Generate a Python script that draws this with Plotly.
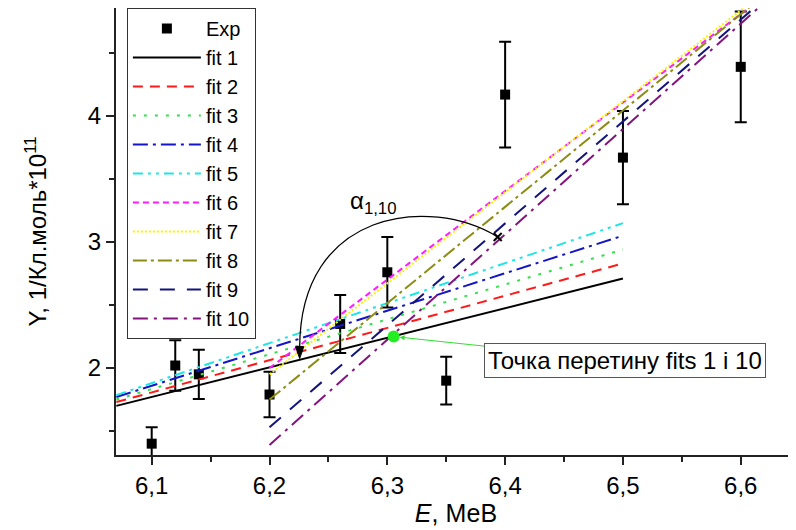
import plotly.graph_objects as go

# ---------------- data ----------------
exp_E = [6.10, 6.12, 6.14, 6.20, 6.26, 6.30, 6.35, 6.40, 6.50, 6.60]
exp_Y = [1.40, 2.02, 1.95, 1.79, 2.35, 2.76, 1.90, 4.17, 3.67, 4.39]
exp_err = [0.13, 0.20, 0.195, 0.18, 0.23, 0.28, 0.19, 0.42, 0.37, 0.44]

fit_names = ["fit 1", "fit 2", "fit 3", "fit 4", "fit 5",
             "fit 6", "fit 7", "fit 8", "fit 9", "fit 10"]
fit_x0 = [6.07, 6.07, 6.07, 6.07, 6.07, 6.20, 6.20, 6.20, 6.20, 6.20]
fit_y0 = [1.70, 1.73, 1.75, 1.77, 1.785, 2.00, 1.95, 1.75, 1.53, 1.39]
fit_x1 = [6.50, 6.50, 6.50, 6.50, 6.50, 6.65, 6.65, 6.65, 6.65, 6.65]
fit_y1 = [2.71, 2.83, 2.94, 3.05, 3.15, 5.16, 5.20, 5.19, 5.17, 5.15]
fit_colors = ["#000000", "#FF1A1A", "#33E04D", "#1414C8", "#1EE6E6",
              "#FF1AFF", "#F5F500", "#8C8C14", "#14147D", "#82147D"]
fit_dash = ["solid", "10px,7px", "3px,8px", "15px,5px,3px,5px",
            "10px,5px,3px,5px,3px,5px", "6px,4px", "2px,2px",
            "14px,4px,3px,4px", "15px,12px", "15px,6px,3px,6px"]

cross_E, cross_Y = [6.3054], [2.25]          # intersection of fits 1 and 10
angle_mark_E, angle_mark_Y = [6.3937], [3.04]
# arc for alpha_{1,10}: start, control 1, control 2, end
arc_E = [6.3937, 6.336, 6.2256, 6.2256]
arc_Y = [3.04, 3.373, 3.254, 2.16]

x_ticks = [6.1, 6.2, 6.3, 6.4, 6.5, 6.6]
x_ticklabels = ["6,1", "6,2", "6,3", "6,4", "6,5", "6,6"]
x_minor = [6.15, 6.25, 6.35, 6.45, 6.55]
y_ticks = [2, 3, 4]
y_ticklabels = ["2", "3", "4"]
y_minor = [1.5, 2.5, 3.5, 4.5]

FONT = "Liberation Sans, Arial, sans-serif"

fig = go.Figure()

fig.add_trace(go.Scatter(
    x=exp_E, y=exp_Y, mode="markers", name="Exp",
    marker=dict(symbol="square", size=10, color="black"),
    error_y=dict(type="data", array=exp_err, color="black", thickness=2, width=6),
))

for i in range(len(fit_names)):
    fig.add_trace(go.Scatter(
        x=[fit_x0[i], fit_x1[i]], y=[fit_y0[i], fit_y1[i]], mode="lines",
        name=fit_names[i],
        line=dict(color=fit_colors[i], width=2, dash=fit_dash[i]),
    ))

fig.add_trace(go.Scatter(
    x=cross_E, y=cross_Y, mode="markers", showlegend=False,
    marker=dict(symbol="circle", size=12, color="#22EE22"),
))
fig.add_trace(go.Scatter(
    x=angle_mark_E, y=angle_mark_Y, mode="markers", showlegend=False,
    marker=dict(symbol="x-thin", size=8, line=dict(color="black", width=2)),
))

path = "M {},{} C {},{} {},{} {},{}".format(
    arc_E[0], arc_Y[0], arc_E[1], arc_Y[1], arc_E[2], arc_Y[2], arc_E[3], arc_Y[3])
fig.add_shape(type="path", path=path, xref="x", yref="y",
              line=dict(color="black", width=1.3))
# arrow head at the end of the arc (pointing down)
head = "M {},{} L {},{} L {},{} Z".format(
    arc_E[3] - 0.0035, arc_Y[3] + 0.01, arc_E[3] + 0.0035, arc_Y[3] + 0.01,
    arc_E[3], arc_Y[3] - 0.085)
fig.add_shape(type="path", path=head, xref="x", yref="y",
              fillcolor="black", line=dict(color="black", width=1))

fig.add_annotation(x=6.2885, y=3.317, xref="x", yref="y",
                   text="α<sub>1,10</sub>", showarrow=False,
                   font=dict(family=FONT, size=24, color="black"))

fig.add_annotation(x=cross_E[0], y=cross_Y[0], xref="x", yref="y",
                   ax=6.5015, ay=2.056, axref="x", ayref="y",
                   text="Точка перетину fits 1 і 10", showarrow=True,
                   arrowhead=2, arrowsize=1, arrowwidth=1, arrowcolor="#33DD33",
                   standoff=6, bgcolor="white", bordercolor="#555555",
                   borderwidth=1, borderpad=3,
                   font=dict(family=FONT, size=24, color="black"))

fig.update_layout(
    width=788, height=522,
    margin=dict(l=108, r=0, t=0, b=75),
    paper_bgcolor="white", plot_bgcolor="white",
    font=dict(family=FONT, size=21, color="black"),
    showlegend=True,
    legend=dict(x=0.016, y=1.0, xanchor="left", yanchor="top",
                bgcolor="white", bordercolor="#333333", borderwidth=1,
                font=dict(family=FONT, size=20), itemwidth=68,
                tracegroupgap=0),
)

fig.update_xaxes(
    range=[6.0697, 6.6469], tickmode="array", tickvals=x_ticks, ticktext=x_ticklabels,
    ticks="outside", ticklen=8, tickwidth=2, tickcolor="#222222",
    showline=True, linecolor="#222222", linewidth=2, mirror=False,
    showgrid=False, zeroline=False,
    minor=dict(tickvals=x_minor, ticks="outside", ticklen=5, tickwidth=2,
               tickcolor="#222222", showgrid=False),
    tickfont=dict(family=FONT, size=24),
    title=dict(text="<i>E</i>, МеВ", font=dict(family=FONT, size=25), standoff=6),
)
fig.update_yaxes(
    range=[1.31, 4.857], tickmode="array", tickvals=y_ticks, ticktext=y_ticklabels,
    ticks="outside", ticklen=8, tickwidth=2, tickcolor="#222222",
    showline=True, linecolor="#222222", linewidth=2, mirror=False,
    showgrid=False, zeroline=False,
    minor=dict(tickvals=y_minor, ticks="outside", ticklen=5, tickwidth=2,
               tickcolor="#222222", showgrid=False),
    tickfont=dict(family=FONT, size=24),
    title=dict(text="Y, 1/Кл.моль*10<sup>11</sup>", font=dict(family=FONT, size=24),
               standoff=34),
)

fig.write_html("out.html")
